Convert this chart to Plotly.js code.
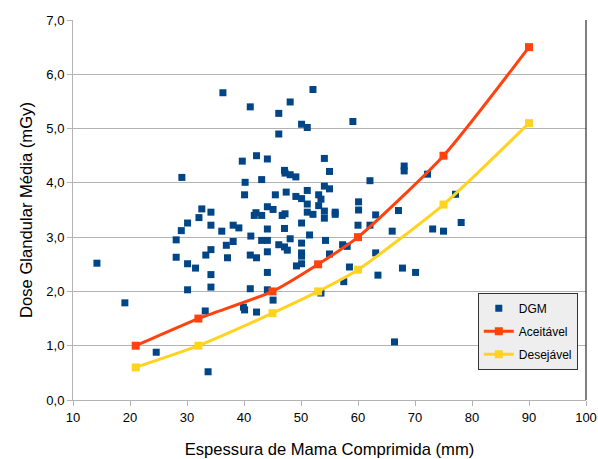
<!DOCTYPE html>
<html>
<head>
<meta charset="utf-8">
<script src="https://cdn.plot.ly/plotly-3.0.1.min.js"></script>
<style>
html,body{margin:0;padding:0;background:#fff;}
#chart{width:598px;height:459px;}
</style>
</head>
<body>
<div id="chart"></div>
<script>
// DGM measurements (thickness mm, dose mGy)
const dgmX = [29.1,14.2,19.1,24.6,33.7,32.6,34.2,32.1,30.1,34.2,29.0,28.1,34.2,33.3,28.1,30.1,31.5,34.2,30.1,34.2,33.2,
  36.3,52.1,41.1,48.1,46.1,50.1,51.1,46.1,39.7,42.2,44.1,54.1,40.2,43.1,47.1,47.2,48.1,49.1,55.0,54.1,40.1,45.5,47.4,51.1,49.1,50.1,53.1,53.5,51.1,53.1,44.1,45.1,54.1,51.1,52.1,54.1,42.1,41.8,43.1,46.7,47.2,50.1,36.1,38.1,39.1,44.1,47.1,51.5,41.2,48.1,54.3,38.1,43.1,44.1,36.9,46.1,47.1,47.6,50.1,37.1,41.1,42.2,44.1,50.1,50.1,49.2,50.1,55.0,44.1,41.1,44.1,45.1,39.9,40.1,42.2,53.5,
  59.1,68.1,68.1,62.1,72.2,55.0,56.0,56.0,60.1,60.1,63.1,67.1,60.0,62.1,66.0,57.3,58.1,63.1,58.5,57.5,63.5,67.8,70.1,66.4,
  77.1,73.1,75.0,78.1];
const dgmY = [4.10,2.52,1.79,0.88,0.52,3.52,3.46,3.36,3.26,3.22,3.12,2.95,2.77,2.67,2.63,2.51,2.43,2.31,2.03,2.08,1.64,
  5.66,5.72,5.40,5.49,5.28,5.08,5.02,4.90,4.40,4.50,4.44,4.45,4.01,4.06,4.23,4.18,4.15,4.11,4.21,3.94,3.78,3.78,3.83,3.86,3.75,3.71,3.78,3.70,3.61,3.58,3.56,3.51,3.48,3.46,3.42,3.35,3.45,3.40,3.40,3.40,3.43,3.26,3.11,3.22,3.17,3.15,3.16,3.04,3.02,2.97,2.94,2.92,2.94,2.94,2.85,2.86,2.82,2.76,2.89,2.62,2.67,2.62,2.73,2.71,2.65,2.47,2.51,2.69,2.35,2.05,2.03,1.84,1.71,1.66,1.62,1.97,
  5.13,4.31,4.22,4.04,4.16,3.89,3.46,3.42,3.65,3.50,3.41,3.49,3.22,3.22,3.11,2.86,2.83,2.71,2.45,2.18,2.30,2.43,2.35,1.07,
  3.79,3.15,3.11,3.27];

// Reference levels
const refX = [21,32,45,53,60,75,90];
const aceitavelY = [1.0,1.5,2.0,2.5,3.0,4.5,6.5];
const desejavelY = [0.6,1.0,1.6,2.0,2.4,3.6,5.1];

const xTicks = [10,20,30,40,50,60,70,80,90,100];
const yTicks = [0,1,2,3,4,5,6,7];

const FONT = 'Liberation Sans, Arial, sans-serif';

const traces = [
  {x: dgmX, y: dgmY, type:'scatter', mode:'markers', name:'DGM', legendgroup:'a',
   marker:{symbol:'square', size:7, color:'#004586'}},
  {x: refX, y: aceitavelY, type:'scatter', mode:'lines+markers', name:'Aceitável', legendgroup:'b',
   line:{color:'#ff420e', width:3, shape:'spline', smoothing:0.6},
   marker:{symbol:'square', size:8, color:'#ff420e'}},
  {x: refX, y: desejavelY, type:'scatter', mode:'lines+markers', name:'Desejável', legendgroup:'c',
   line:{color:'#ffd320', width:3, shape:'spline', smoothing:0.6},
   marker:{symbol:'square', size:8, color:'#ffd320'}}
];

const layout = {
  width:598, height:459,
  margin:{l:73, r:12, t:20, b:59},
  paper_bgcolor:'#ffffff', plot_bgcolor:'#ffffff',
  font:{family:FONT, size:13, color:'#000'},
  separators:',.',
  showlegend:true,
  xaxis:{
    range:[10,100], tickvals:xTicks, ticktext:xTicks.map(String),
    showgrid:false, zeroline:false,
    showline:true, linecolor:'#b3b3b3', linewidth:1,
    ticks:'outside', ticklen:5, tickcolor:'#b3b3b3',
    tickfont:{family:FONT, size:13, color:'#000'},
    title:{text:'Espessura de Mama Comprimida (mm)', font:{family:FONT, size:16.6, color:'#000'}, standoff:20}
  },
  yaxis:{
    range:[0,7], tickvals:yTicks, tickformat:'.1f',
    showgrid:true, gridcolor:'#b3b3b3', gridwidth:1, zeroline:false,
    showline:true, linecolor:'#b3b3b3', linewidth:1,
    ticks:'outside', ticklen:5, tickcolor:'#b3b3b3',
    tickfont:{family:FONT, size:13, color:'#000'},
    title:{text:'Dose Glandular Média (mGy)', font:{family:FONT, size:16.6, color:'#000'}, standoff:9}
  },
  legend:{
    x:0.984, y:0.282, xanchor:'right', yanchor:'top',
    bgcolor:'#eeeeee', bordercolor:'#333333', borderwidth:1,
    font:{family:FONT, size:12, color:'#000'},
    traceorder:'grouped', tracegroupgap:4
  },
  shapes:[
    {type:'line', xref:'paper', yref:'paper', x0:1, x1:1, y0:0, y1:1, line:{color:'#000', width:1}}
  ]
};

Plotly.newPlot('chart', traces, layout, {displayModeBar:false, staticPlot:true});
</script>
</body>
</html>
